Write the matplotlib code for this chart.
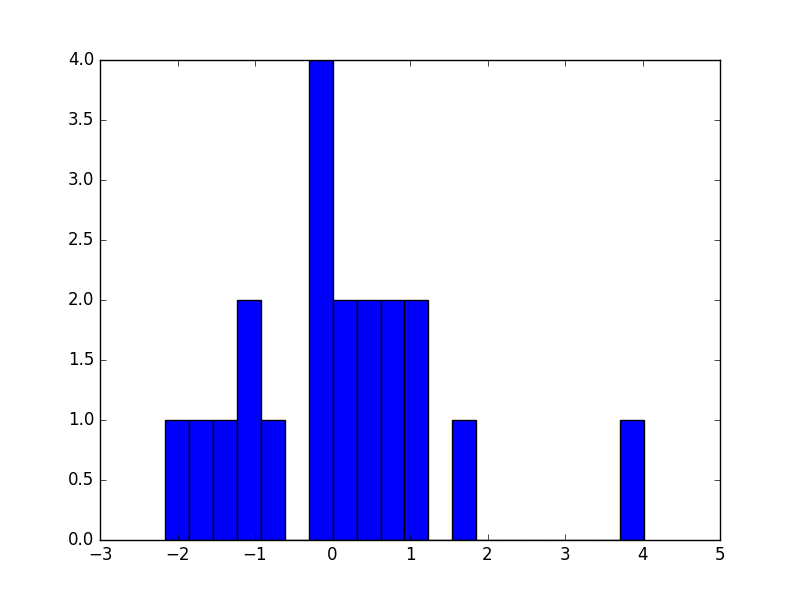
import numpy as np
import matplotlib
matplotlib.use("Agg")
import matplotlib.pyplot as plt

plt.style.use("classic")

# histogram: 20 equal bins
lo, hi = -2.161, 4.019
counts = [1, 1, 1, 2, 1, 0, 4, 2, 2, 2, 2, 0, 1, 0, 0, 0, 0, 0, 0, 1]

edges = np.linspace(lo, hi, len(counts) + 1)
centers = (edges[:-1] + edges[1:]) / 2

fig = plt.figure(figsize=(8, 6), dpi=100)
ax = fig.add_subplot(111)
ax.hist(centers, bins=edges, weights=counts, color="b", edgecolor="k")
ax.set_xlim(-3, 5)
ax.set_ylim(0, 4)

fig.savefig("out.png", dpi=100)
